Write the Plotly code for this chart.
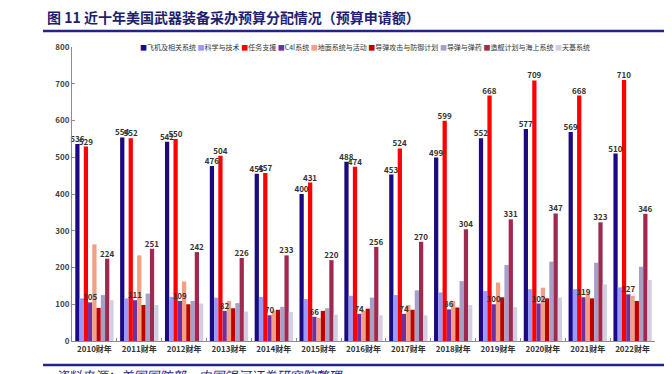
import plotly.graph_objects as go

years = ["2010财年", "2011财年", "2012财年", "2013财年", "2014财年", "2015财年", "2016财年",
         "2017财年", "2018财年", "2019财年", "2020财年", "2021财年", "2022财年"]

aircraft = [536, 554, 542, 476, 455, 400, 488, 453, 499, 552, 577, 569, 510]
sci_tech = [116, 116, 120, 118, 120, 114, 123, 125, 132, 136, 141, 141, 146]
mission_support = [529, 552, 550, 504, 457, 431, 474, 524, 599, 668, 709, 668, 710]
c4i = [105, 111, 109, 82, 70, 66, 74, 74, 86, 100, 102, 119, 127]
ground = [263, 233, 162, 109, 83, 63, 82, 98, 109, 159, 145, 130, 123]
missile_defense = [90, 98, 100, 89, 85, 82, 88, 85, 91, 119, 116, 116, 109]
munitions = [125, 129, 109, 103, 93, 89, 118, 138, 163, 207, 216, 213, 202]
shipbuilding = [224, 251, 242, 226, 233, 220, 256, 270, 304, 331, 347, 323, 346]
space = [111, 98, 102, 80, 79, 72, 70, 70, 98, 92, 118, 154, 166]

y_ticks = [0, 100, 200, 300, 400, 500, 600, 700, 800]

series = [
    ("飞机及相关系统", aircraft, "#1B0A82", True),
    ("科学与技术", sci_tech, "#9999FF", False),
    ("任务支援", mission_support, "#FF0000", True),
    ("C4I系统", c4i, "#7030A0", True),
    ("地面系统与活动", ground, "#F2A084", False),
    ("导弹攻击与防御计划", missile_defense, "#C00000", False),
    ("导弹与弹药", munitions, "#A6A0C8", False),
    ("造舰计划与海上系统", shipbuilding, "#A0294F", True),
    ("天基系统", space, "#D2CFE2", False),
]

FONT = "Noto Sans CJK SC"
fig = go.Figure()
for i, (name, vals, color, labeled) in enumerate(series):
    fig.add_trace(go.Bar(
        x=years, y=vals, name=name, marker_color=color, marker_line_width=0,
        offsetgroup=str(i),
    ))
# value labels drawn on top of all bars (same positions via offsetgroup)
for i, (name, vals, color, labeled) in enumerate(series):
    if not labeled:
        continue
    fig.add_trace(go.Bar(
        x=years, y=vals, name=name + " 标签", offsetgroup=str(i),
        marker_color="rgba(0,0,0,0)", marker_line_width=0,
        text=[str(v) for v in vals], textposition="outside",
        textfont=dict(family=FONT, size=8, color="#333333", weight="bold"),
        constraintext="none", cliponaxis=False, hoverinfo="skip",
    ))

legend_parts = []
for name, vals, color, labeled in series:
    legend_parts.append(f"<span style='color:{color}'>■</span>{name}")
legend_text = "&nbsp;".join(legend_parts)

navy = "#23238E"
# the page body adds an 8px offset, so the figure is 8px smaller than the window
fig.update_layout(
    width=664, height=366,
    margin=dict(l=64, r=17, t=39, b=33),
    paper_bgcolor="white", plot_bgcolor="white",
    barmode="group", bargap=0.146, bargroupgap=0,
    showlegend=False,
    font=dict(family=FONT, color="#333333"),
    xaxis=dict(
        type="category", showgrid=False, showline=True, linecolor="#8C8C8C", linewidth=1,
        ticks="inside", ticklen=3, tickcolor="#8C8C8C", tickson="boundaries",
        tickfont=dict(family=FONT, size=8, color="#333333", weight="bold"),
    ),
    yaxis=dict(
        range=[0, 800], tickvals=y_ticks, showgrid=False, zeroline=False,
        showline=True, linecolor="#8C8C8C", linewidth=1,
        ticks="inside", ticklen=3, tickcolor="#8C8C8C",
        tickfont=dict(family=FONT, size=8, color="#444444", weight="bold"),
    ),
    shapes=[
        dict(type="line", xref="paper", yref="paper", x0=-0.0497, x1=1.0206, y0=1.054, y1=1.054,
             line=dict(color=navy, width=2.5)),
        dict(type="line", xref="paper", yref="paper", x0=-0.0497, x1=1.0206, y0=-0.0816, y1=-0.0816,
             line=dict(color=navy, width=2.5)),
    ],
    annotations=[
        dict(text="<b>图 11 近十年美国武器装备采办预算分配情况（预算申请额）</b>", xref="paper", yref="paper",
             x=-0.0463, y=1.102, xanchor="left", yanchor="middle", showarrow=False,
             font=dict(family=FONT, size=14, color="#1F1F70")),
        dict(text=legend_text, xref="paper", yref="paper", x=0.5026, y=1.0,
             xanchor="center", yanchor="middle", showarrow=False,
             font=dict(family=FONT, size=7, color="#333333")),
        dict(text="<i>资料来源：美国国防部，中国银河证券研究院整理</i>", xref="paper", yref="paper",
             x=-0.0326, y=-0.119, xanchor="left", yanchor="middle", showarrow=False,
             font=dict(family=FONT, size=13, color="#1F1F8C")),
    ],
)

fig.write_html("out.html")
